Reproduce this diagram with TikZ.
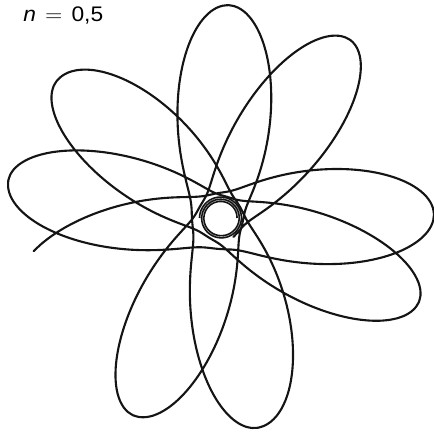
\documentclass[tikz,border=0pt]{standalone}
\usepackage{fontspec}
\setmainfont{Liberation Sans}
\begin{document}
\begin{tikzpicture}[x=0.02cm,y=0.02cm,
  orbit/.style={line width=1.2pt, draw=black!92, line join=round, line cap=round},
  ring/.style={line width=0.9pt, draw=black!92},
  label/.style={font=\fontsize{12}{14}\selectfont, inner sep=0pt, anchor=base west}]
\useasboundingbox (-221,-218) rectangle (212,218);
% orbit: apocentre a1 -> pericentre p -> apocentre a2 ; s in [-1,1], s=0 at pericentre
\draw[orbit]
  plot[domain=-0.9:1, samples=115, smooth, variable=\s]
    ({100.5+abs(\s)*ifthenelse(\s<0,200-100.5,1-100.5)}:
     {25*exp((1-cos(180*(abs(\s)-0.172*sin(180*abs(\s)))))/2*ln(ifthenelse(\s<0,215,213)/25))})
  \foreach \aa/\ra/\pp/\rp/\ab/\rb/\sto in {
     1/213/-94.5/31/-190/216/1,
     -190/216/-286.5/22/-383/215/1,
     -383/215/-481.5/23/-580/214/1,
     -580/214/-690/22/-800/213/1,
     -800/213/-896/29/-992/213/1,
     -992/213/-1093/22/-1194/216/1,
     -1194/216/-1290/24/-1386/220/1,
     -1386/220/-1482/22/-1580/215/0.15}
  { -- plot[domain=-1:\sto, samples=121, smooth, variable=\s]
    ({\pp+abs(\s)*ifthenelse(\s<0,\aa-\pp,\ab-\pp)}:
     {\rp*exp((1-cos(180*(abs(\s)-0.172*sin(180*abs(\s)))))/2*ln(ifthenelse(\s<0,\ra,\rb)/\rp))}) };
% central body
\draw[ring] plot[domain=0:900, samples=180, smooth, variable=\a] ({\a}:{16+5.5*\a/900});
\node[label] (lbl) at (-198,196) {\scalebox{1.08}[1]{{\itshape n}\hspace{0.4em}$=$\hspace{0.4em}0,5}};
\end{tikzpicture}
\end{document}
